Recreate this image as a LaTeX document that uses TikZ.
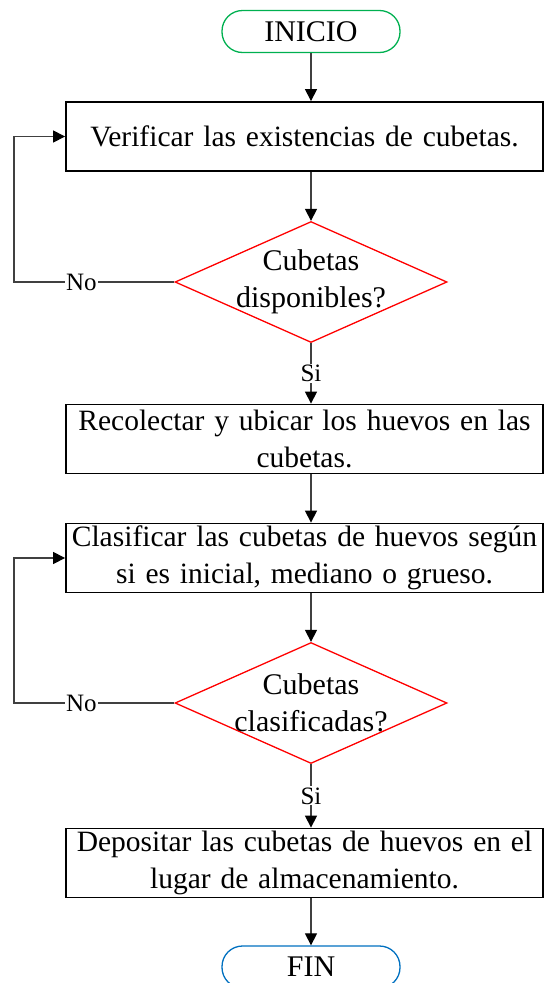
\documentclass[tikz,border=0pt]{standalone}
\usepackage{fontspec}
\setmainfont{Liberation Serif}
\usetikzlibrary{positioning}
\usetikzlibrary{shapes.geometric, arrows.meta}

\definecolor{startgreen}{RGB}{0,176,80}
\definecolor{endblue}{RGB}{0,112,192}

\tikzset{
  startstop/.style={rectangle, rounded corners=20.5pt, draw, line width=1.3pt,
    minimum width=178pt, minimum height=42pt, inner sep=0pt,
    font=\fontsize{30}{36}\selectfont},
  process/.style={rectangle, draw=black, line width=1.8pt, minimum height=69pt,
    text width=471pt, inner xsep=3pt, inner ysep=2pt, align=center,
    font=\fontsize{29.5}{37}\selectfont},
  decision/.style={diamond, draw=red, line width=1.3pt,
    minimum width=272pt, minimum height=121pt, inner sep=0pt},
  dectext/.style={align=center, font=\fontsize{30}{37}\selectfont},
  arrow/.style={draw=black!75, line width=1.2pt,
    -{Triangle[width=12pt,length=12pt,color=black]}},
  answer/.style={fill=white, inner sep=1pt, font=\fontsize{25}{30}\selectfont}
}

\begin{document}
\begin{tikzpicture}[x=1pt, y=-1pt]

\useasboundingbox (0,0) rectangle (544,983);

% Start
\node[startstop, draw=startgreen] (inicio) at (311,31.5) {INICIO};

% Steps and checks
\node[process] (verificar) at (304.5,136.5) {Verificar las existencias de cubetas.};

\node[decision] (dec1) at (311,282) {};
\node[dectext] (dec1txt) at (dec1) {Cubetas\\disponibles?};

\node[process] (recolectar) at (304.5,439) {Recolectar y ubicar los huevos en las\\cubetas.};

\node[process] (clasificar) at (304.5,558)
  {\makebox[0pt]{Clasificar las cubetas de huevos según}\\si es inicial, mediano o grueso.};

\node[decision] (dec2) at (311,703) {};
\node[dectext] (dec2txt) at (dec2) {Cubetas\\clasificadas?};

\node[process] (depositar) at (304.5,863) {Depositar las cubetas de huevos en el\\lugar de almacenamiento.};

% End
\node[startstop, draw=endblue] (fin) at (311,967) {FIN};

% Loop corners
\coordinate (loop1) at (14,282);
\coordinate (loop2) at (14,703);

% Arrows
\draw[arrow] (inicio.south) -- (inicio.south |- verificar.north);
\draw[arrow] (verificar.south -| dec1.north) -- (dec1.north);
\draw[arrow] (dec1.south) -- node[answer] {Si} (dec1.south |- recolectar.north);
\draw[arrow] (dec1.west) -- node[answer, pos=0.58] {No} (loop1) |- (verificar.west);
\draw[arrow] (recolectar.south -| dec1.south) -- (dec1.south |- clasificar.north);
\draw[arrow] (clasificar.south -| dec2.north) -- (dec2.north);
\draw[arrow] (dec2.south) -- node[answer] {Si} (dec2.south |- depositar.north);
\draw[arrow] (dec2.west) -- node[answer, pos=0.58] {No} (loop2) |- (clasificar.west);
\draw[arrow] (depositar.south -| fin.north) -- (fin.north);

\end{tikzpicture}
\end{document}
